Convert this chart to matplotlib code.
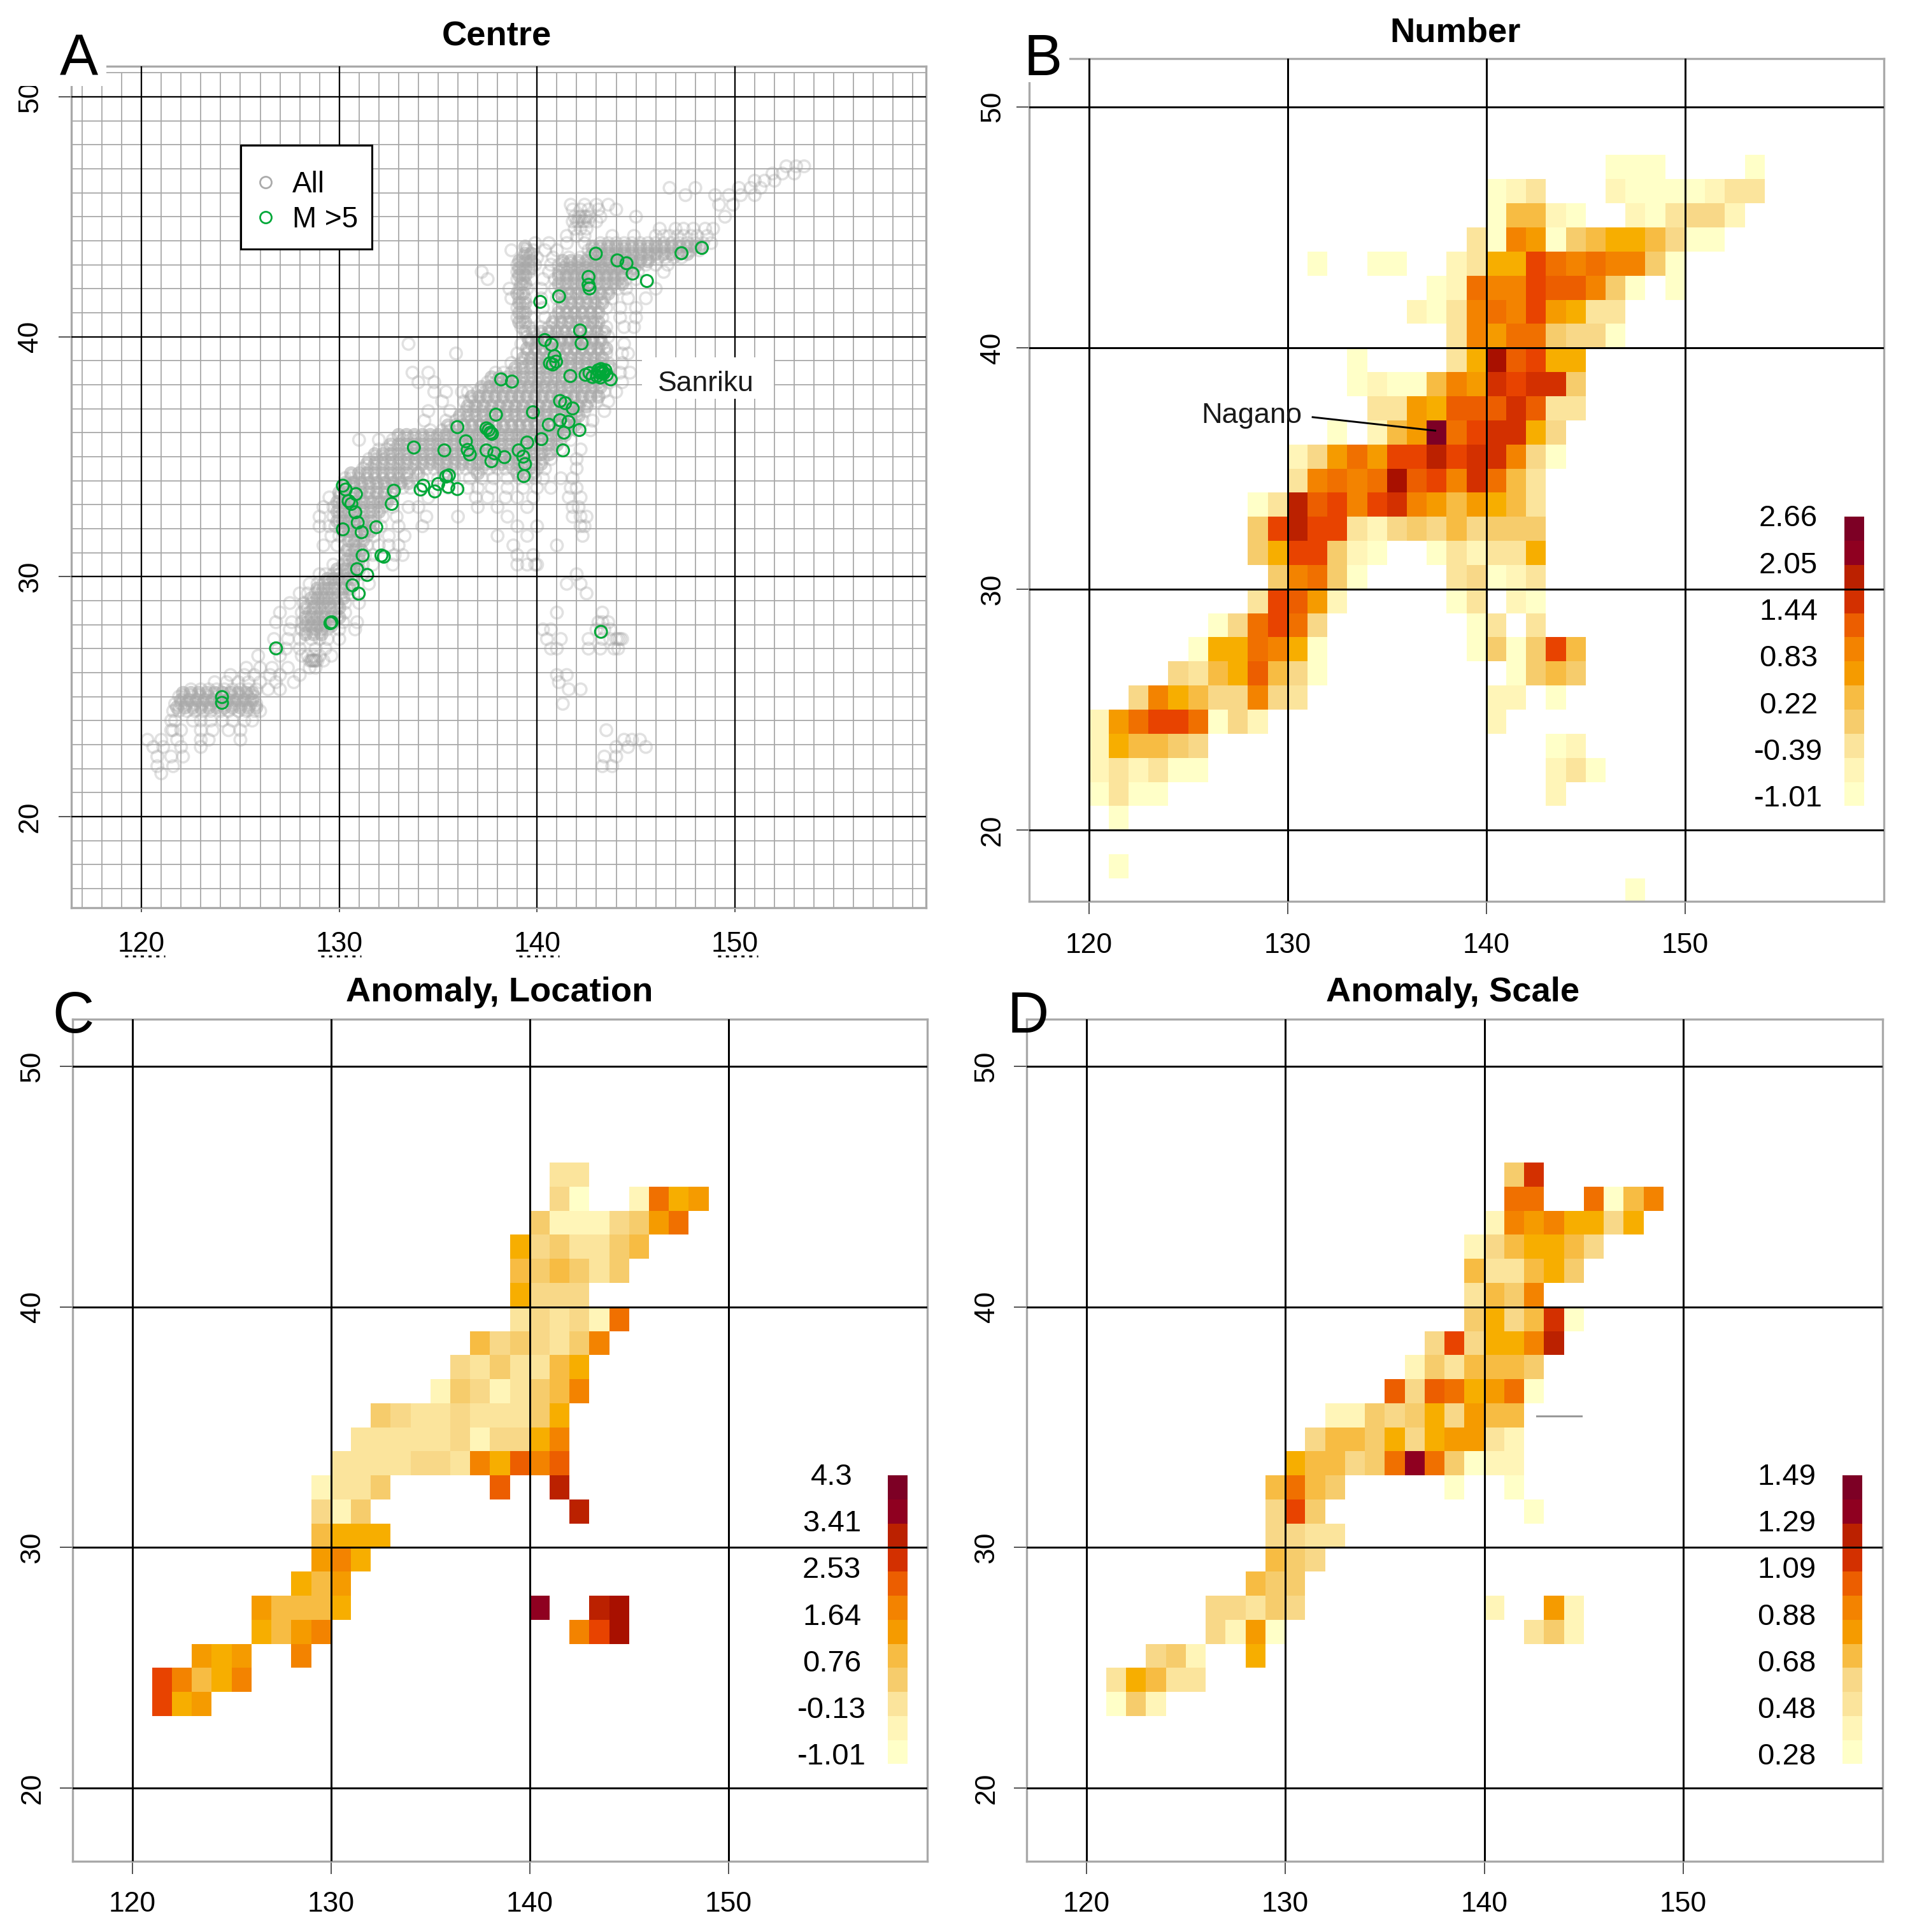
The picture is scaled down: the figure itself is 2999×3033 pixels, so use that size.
import matplotlib
matplotlib.use("Agg")
import numpy as np
import matplotlib.pyplot as plt
from matplotlib.colors import ListedColormap
from matplotlib.lines import Line2D
from matplotlib.patches import Rectangle

plt.rcParams['font.family'] = ['Liberation Sans', 'DejaVu Sans']

W, H = 2999, 3033

LEVEL_CODES = "abcdefghijklmnopq"
LEVEL_COLOURS = ["#FFFFC8", "#FFF5B8", "#FBE49C", "#F8D888", "#F6CC6C", "#F7BC43",
                 "#F7AE00", "#F59B00", "#F38300", "#F07000", "#EC5E00", "#E84300",
                 "#D33000", "#BB2100", "#A81000", "#8F0020", "#7D0025"]

X_TICKS = [120, 130, 140, 150]
Y_TICKS = [20, 30, 40, 50]

# (bottom latitude of the cell row, first longitude, level code per 1-degree cell)
NUMBER_ROWS = [
    (47, 146, "aaa....a"),
    (46, 140, "abc...baaaabcc"),
    (45, 140, "affba..bacddb"),
    (44, 139, "caihaefggfdaa"),
    (43, 131, "a..aa..bcggljijiiea"),
    (42, 137, "abjiilkkiea.a"),
    (41, 136, "bacijilhgcc"),
    (40, 138, "cihjjedda"),
    (39, 133, "a....cgoklgg"),
    (38, 133, "abaafihmlmme"),
    (37, 134, "cchgkkkmkcc"),
    (36, 132, "a.bfhqjlmmgd"),
    (35, 130, "bdhjhllnlmmida"),
    (34, 130, "cijijoklimjfc"),
    (33, 128, "acnklilmihfhgfc"),
    (32, 128, "elnllcbdedfdeee"),
    (31, 128, "eglleba..acbccg"),
    (30, 129, "eijea....cdabc"),
    (29, 128, "clkhb.....ac.ba"),
    (28, 126, "adjljd.......ac.c"),
    (27, 125, "aggjiga.......aeaelf"),
    (26, 124, "dcfgkfda.........aefe"),
    (25, 122, "digfddidc.........bb.a"),
    (24, 120, "bhjlljadb...........b"),
    (23, 120, "bgffed.................ab"),
    (22, 120, "bcbcaa.................bca"),
    (21, 120, "acaa...................b"),
    (20, 121, "a"),
    (18, 121, "a"),
    (17, 147, "a"),
]

LOCATION_ROWS = [
    (45, 141, "cc"),
    (44, 141, "da..bjgh"),
    (43, 140, "ebbbdehj"),
    (42, 139, "gdeccef"),
    (41, 139, "fefece"),
    (40, 139, "gddd"),
    (39, 139, "cdcdbj"),
    (38, 137, "fdedcei"),
    (37, 136, "dceccfg"),
    (36, 135, "bedbcefi"),
    (35, 132, "edccdccceg"),
    (34, 131, "cccccdbddgi"),
    (33, 130, "ccccddcigkik"),
    (32, 129, "bcce.....k..n"),
    (31, 129, "dbe..........n"),
    (30, 129, "fggg"),
    (29, 129, "hig"),
    (28, 128, "gfh"),
    (27, 126, "hfffg.........p..no"),
    (26, 126, "gfhi............ilo"),
    (25, 123, "hgh..i"),
    (24, 121, "lifgi"),
    (23, 121, "lgh"),
]

SCALE_ROWS = [
    (45, 141, "em"),
    (44, 141, "jj..jafi"),
    (43, 140, "bihiggdg"),
    (42, 139, "bdfggfd"),
    (41, 139, "fccfge"),
    (40, 139, "cfei"),
    (39, 139, "egdfma"),
    (38, 137, "dldggin"),
    (37, 136, "becfffe"),
    (36, 135, "kdkjghja"),
    (35, 132, "bbedegdhff"),
    (34, 131, "dffegdghhcb"),
    (33, 130, "gffdejpjeabb"),
    (32, 129, "fjfe.....a..a"),
    (31, 129, "dle..........a"),
    (30, 129, "ddcc"),
    (29, 129, "fed"),
    (28, 128, "fee"),
    (27, 126, "ddced.........b..hb"),
    (26, 126, "dbha............ceb"),
    (25, 123, "deb..g"),
    (24, 121, "cgfcc"),
    (23, 121, "aeb"),
]

# colour key, bottom cell first
NUMBER_KEY = "abcefhikmnpq"
LOCATION_KEY = "abcefhikmnpq"
SCALE_KEY = "abcdfhikmnpq"
NUMBER_KEY_LABELS = ["2.66", "2.05", "1.44", "0.83", "0.22", "-0.39", "-1.01"]
LOCATION_KEY_LABELS = ["4.3", "3.41", "2.53", "1.64", "0.76", "-0.13", "-1.01"]
SCALE_KEY_LABELS = ["1.49", "1.29", "1.09", "0.88", "0.68", "0.48", "0.28"]
KEY_LABEL_LATS = [32.92, 30.98, 29.05, 27.11, 25.17, 23.24, 21.30]

# earthquakes with M > 5 (lon, lat)
STRONG_LON = [142.97, 144.06, 144.52, 144.83, 145.55, 147.30, 148.33, 142.60, 142.60, 142.65,
              141.11, 140.16, 142.17, 142.25, 140.39, 140.73, 140.88, 140.65, 140.96, 140.79,
              141.68, 142.45, 142.65, 142.80, 143.09, 143.23, 143.37, 143.52, 143.72, 143.03,
              138.18, 138.73, 137.92, 139.79, 141.16, 141.42, 141.80, 135.97, 137.44, 137.64,
              137.72, 137.55, 140.59, 141.16, 141.59, 142.14, 141.36, 140.22, 139.50, 136.40,
              136.49, 136.60, 135.31, 133.77, 137.44, 137.84, 138.35, 137.69, 139.07, 139.30,
              139.39, 139.33, 141.31, 132.76, 132.65, 134.11, 134.25, 134.83, 135.00, 135.40,
              135.54, 135.51, 135.97, 130.18, 130.32, 130.84, 130.47, 130.61, 130.81, 130.93,
              131.13, 130.18, 131.87, 131.18, 132.13, 132.25, 130.90, 131.41, 130.67, 130.98,
              129.61, 129.55, 126.80, 143.23, 124.07, 124.07, 143.15, 143.30, 143.45, 143.20]
STRONG_LAT = [43.46, 43.18, 43.06, 42.63, 42.32, 43.48, 43.70, 42.49, 42.16, 42.01,
              41.68, 41.45, 40.26, 39.72, 39.86, 39.67, 39.19, 38.89, 38.96, 38.84,
              38.36, 38.41, 38.48, 38.32, 38.60, 38.65, 38.48, 38.41, 38.22, 38.36,
              38.22, 38.13, 36.75, 36.85, 37.32, 37.23, 37.01, 36.23, 36.18, 36.00,
              35.95, 36.11, 36.33, 36.52, 36.45, 36.11, 36.00, 35.73, 35.59, 35.64,
              35.28, 35.09, 35.26, 35.38, 35.26, 35.14, 34.98, 34.81, 35.26, 35.00,
              34.69, 34.19, 35.26, 33.58, 33.03, 33.63, 33.79, 33.55, 33.86, 34.17,
              34.22, 33.74, 33.65, 33.79, 33.63, 33.44, 33.15, 33.03, 32.68, 32.25,
              31.85, 31.97, 32.06, 30.88, 30.88, 30.83, 30.31, 30.07, 29.64, 29.29,
              28.10, 28.06, 27.01, 27.70, 24.98, 24.74, 38.50, 38.55, 38.60, 38.30]

# all earthquakes, estimated by latitude band: (lat, lons)
ALL_ROWS = [
    (47.1, [152.6, 153.1, 153.5]), (46.8, [151.9, 152.4, 153.0]), (46.5, [151.0, 151.5, 152.0]),
    (46.2, [150.2, 150.8, 151.3, 146.7, 148.0]), (45.9, [149.7, 150.3, 151.0, 147.5, 149.0]),
    (45.5, [149.2, 149.9, 142.4, 141.7, 143.0, 143.6]),
    (45.3, [141.8, 142.2, 142.6, 143.1, 144.0]),
    (45.0, [141.9, 142.1, 142.4, 142.7, 143.2, 149.5, 145.0, 142.2, 142.5]),
    (44.8, [141.8, 142.0, 142.3, 142.6, 143.0, 142.1, 142.4]),
    (44.5, [141.9, 142.2, 142.5, 146.2, 147.0, 147.4, 147.9, 148.5, 148.9]),
    (44.2, [142.0, 142.4, 141.5, 143.8, 144.9, 146.0, 146.4, 146.7, 147.1, 147.4, 147.8, 148.1, 148.6]),
    (43.9, [139.9, 140.6, 141.5, 142.4, 143.2, 143.6, 144.0, 144.4, 144.8, 145.2, 145.6, 146.0, 146.4,
            146.8, 147.2, 147.6, 148.0, 148.4, 148.8]),
    (43.6, [138.7, 139.5, 139.8, 140.4, 141.0, 142.6, 143.0, 143.4, 143.8, 144.2, 144.6, 145.0, 145.4,
            145.8, 146.2, 146.6, 147.0, 147.4, 147.8, 148.2]),
    (43.3, [139.3, 139.6, 140.0, 140.8, 141.6, 142.2, 142.6, 143.0, 143.3, 143.7, 144.1, 144.5, 144.9,
            145.3, 145.7, 146.1, 146.5, 146.9, 147.3]),
    (43.0, [139.0, 139.3, 139.6, 139.9, 140.7, 141.1, 141.5, 141.9, 142.3, 142.7, 143.1, 143.5, 143.9,
            144.3, 144.7, 145.1, 145.5, 146.0, 146.6]),
    (42.7, [137.2, 139.0, 139.3, 139.6, 140.6, 141.1, 141.5, 141.9, 142.3, 142.7, 143.1, 143.5, 143.9,
            144.3, 144.7, 145.1, 146.4]),
    (42.4, [137.5, 139.0, 139.3, 139.7, 140.3, 140.9, 141.3, 141.7, 142.1, 142.5, 142.9, 143.3, 143.7,
            144.1, 144.5, 145.0]),
    (42.0, [138.6, 139.1, 139.5, 140.2, 140.9, 141.3, 141.7, 142.1, 142.5, 142.9, 143.3, 143.7, 144.1,
            144.5, 146.0]),
    (41.6, [138.7, 139.1, 139.4, 140.2, 141.0, 141.4, 141.8, 142.2, 142.6, 143.0, 143.4, 143.8, 144.6, 145.5]),
    (41.2, [139.0, 139.3, 139.7, 140.3, 141.1, 141.5, 141.9, 142.3, 142.7, 143.1, 143.5, 144.2, 145.0]),
    (40.8, [139.0, 139.3, 139.7, 140.4, 140.9, 141.3, 141.7, 142.1, 142.5, 142.9, 143.3, 144.2, 145.0]),
    (40.4, [139.2, 139.6, 140.2, 140.6, 141.0, 141.4, 141.8, 142.2, 142.6, 143.0, 143.5, 144.4, 144.9]),
    (40.0, [139.5, 140.0, 140.4, 140.8, 141.2, 141.6, 142.0, 142.4, 142.8, 143.2, 143.6]),
    (39.7, [133.5, 139.2, 139.7, 140.1, 140.5, 140.9, 141.3, 141.7, 142.1, 142.5, 142.9, 143.3, 144.4]),
    (39.3, [135.9, 139.0, 139.5, 139.9, 140.3, 140.7, 141.1, 141.5, 141.9, 142.3, 142.7, 143.1, 143.5, 144.3, 144.6]),
    (38.9, [138.7, 139.2, 139.6, 140.0, 140.4, 140.8, 141.2, 141.6, 142.0, 142.4, 142.8, 143.2, 143.6, 144.3]),
    (38.5, [133.7, 134.5, 137.9, 138.3, 138.7, 139.1, 139.5, 139.9, 140.3, 140.7, 141.1, 141.5, 141.9,
            142.3, 142.7, 143.1, 143.5, 144.2, 144.7]),
    (38.1, [134.0, 134.8, 137.5, 137.9, 138.3, 138.7, 139.1, 139.5, 139.9, 140.3, 140.7, 141.1, 141.5,
            141.9, 142.3, 142.7, 143.1, 143.6, 144.3]),
    (37.7, [134.8, 135.4, 136.2, 136.5, 137.0, 137.4, 137.8, 138.2, 138.6, 139.0, 139.4, 139.8, 140.2,
            140.6, 141.0, 141.4, 141.8, 142.2, 142.6, 143.0, 143.4, 144.0]),
    (37.3, [135.2, 136.3, 136.6, 137.0, 137.4, 137.8, 138.2, 138.6, 139.0, 139.4, 139.8, 140.2, 140.6,
            141.0, 141.4, 141.8, 142.2, 142.6, 143.0, 143.6]),
    (36.9, [134.5, 135.6, 136.4, 136.8, 137.2, 137.6, 138.0, 138.4, 138.8, 139.2, 139.6, 140.0, 140.4,
            140.8, 141.2, 141.6, 142.0, 142.4, 143.4]),
    (36.5, [134.3, 135.4, 135.9, 136.3, 136.7, 137.1, 137.5, 137.9, 138.3, 138.7, 139.1, 139.5, 139.9,
            140.3, 140.7, 141.1, 141.5, 141.9, 142.3, 142.8]),
    (36.1, [134.6, 135.2, 135.6, 136.0, 136.4, 136.8, 137.2, 137.6, 138.0, 138.4, 138.8, 139.2, 139.6,
            140.0, 140.4, 140.8, 141.2, 141.6, 142.0, 142.7]),
    (35.7, [131.0, 132.0, 132.7, 133.2, 133.6, 134.0, 134.4, 134.8, 135.2, 135.6, 136.0, 136.4, 136.8,
            137.2, 137.6, 138.0, 138.4, 138.8, 139.2, 139.6, 140.0, 140.4, 140.8, 141.2, 141.7]),
    (35.3, [132.0, 132.4, 132.8, 133.2, 133.6, 134.0, 134.4, 134.8, 135.2, 135.6, 136.0, 136.4, 136.8,
            137.2, 137.6, 138.0, 138.4, 138.8, 139.2, 139.6, 140.0, 140.4, 140.8, 141.2, 142.2]),
    (34.9, [131.5, 131.9, 132.3, 132.7, 133.1, 133.5, 133.9, 134.3, 134.7, 135.1, 135.5, 135.9, 136.3,
            136.7, 137.1, 137.5, 137.9, 138.3, 138.7, 139.1, 139.5, 139.9, 140.3, 140.7, 142.0]),
    (34.5, [131.2, 131.6, 132.0, 132.4, 132.8, 133.2, 133.6, 134.0, 134.4, 134.8, 135.2, 135.6, 136.0,
            136.4, 136.8, 137.2, 137.6, 138.0, 138.4, 138.8, 139.2, 139.6, 140.0, 140.4, 142.0]),
    (34.1, [130.3, 130.6, 131.0, 131.4, 131.8, 132.2, 132.6, 133.0, 133.4, 134.2, 135.0, 135.8, 136.6,
            137.2, 137.8, 138.5, 139.1, 139.5, 139.9, 140.3, 141.2, 141.8]),
    (33.7, [130.2, 130.5, 130.8, 131.2, 131.6, 132.0, 132.4, 132.8, 133.2, 133.6, 135.5, 136.5, 137.0,
            137.7, 138.5, 139.3, 140.0, 140.7, 141.7, 142.0]),
    (33.3, [129.5, 130.0, 130.3, 130.6, 131.0, 131.4, 131.8, 132.2, 132.6, 134.5, 136.9, 137.5, 138.4,
            139.0, 139.8, 141.6, 142.2]),
    (32.9, [129.2, 129.7, 130.0, 130.3, 130.6, 131.0, 131.4, 131.8, 132.2, 132.7, 133.5, 134.0, 137.0,
            138.0, 139.5, 141.8, 142.1]),
    (32.5, [129.0, 129.7, 130.0, 130.3, 130.6, 131.0, 131.4, 131.8, 132.2, 132.9, 134.4, 136.0, 138.5,
            141.8, 142.2, 142.5]),
    (32.1, [129.0, 129.5, 129.8, 130.2, 130.5, 130.9, 131.3, 131.7, 132.1, 133.0, 134.2, 139.0, 140.0, 142.2, 142.4]),
    (31.7, [129.6, 130.0, 130.4, 130.8, 131.1, 131.4, 131.8, 132.5, 133.3, 138.0, 139.5, 142.3]),
    (31.3, [129.2, 129.9, 130.3, 130.7, 131.0, 131.4, 132.0, 132.5, 133.0, 138.8, 141.0]),
    (30.9, [130.3, 130.6, 131.0, 131.3, 131.7, 132.8, 133.2, 139.0, 139.8]),
    (30.5, [129.7, 130.2, 130.5, 130.8, 131.2, 131.7, 132.7, 139.0, 139.5, 139.9, 140.0]),
    (30.1, [129.0, 129.3, 129.7, 130.0, 130.4, 130.8, 131.2, 142.0]),
    (29.7, [128.5, 128.9, 129.2, 129.5, 129.8, 130.2, 130.6, 131.5, 141.5, 142.2]),
    (29.3, [128.0, 128.4, 128.8, 129.1, 129.4, 129.7, 130.1, 130.5, 131.0, 142.5]),
    (28.9, [127.5, 128.2, 128.6, 128.9, 129.2, 129.5, 129.9, 130.3, 131.0]),
    (28.5, [127.0, 128.1, 128.5, 128.8, 129.1, 129.4, 129.8, 130.3, 141.0, 143.3]),
    (28.1, [126.8, 127.6, 128.1, 128.4, 128.7, 129.0, 129.3, 129.7, 130.2, 130.9, 143.1, 143.3, 143.6]),
    (27.8, [127.5, 128.1, 128.5, 128.8, 129.1, 129.4, 130.0, 130.8, 140.3, 140.7, 143.0, 143.4, 143.7]),
    (27.4, [126.7, 127.4, 128.0, 128.6, 129.0, 129.4, 130.0, 140.5, 141.2, 142.6, 143.3, 143.7, 144.0, 144.3, 144.1, 144.2]),
    (27.0, [126.9, 127.3, 128.0, 128.8, 129.3, 140.7, 141.0, 142.6, 143.2, 143.9, 144.1]),
    (26.7, [125.9, 127.0, 128.1, 128.4, 128.7, 129.0, 129.6]),
    (26.5, [128.6, 128.9, 128.7, 128.8, 128.5, 129.2, 128.6, 128.7, 128.8]),
    (26.2, [125.3, 126.0, 126.6, 127.4, 128.5, 128.8]),
    (25.9, [124.5, 125.2, 125.7, 126.5, 127.0, 128.0, 141.0, 141.5]),
    (25.6, [123.7, 124.3, 124.9, 125.4, 126.0, 126.8, 127.7, 141.1]),
    (25.3, [122.5, 123.0, 123.4, 123.8, 124.2, 124.6, 125.0, 125.4, 125.8, 126.4, 127.0, 141.6, 142.2]),
    (25.0, [121.9, 122.2, 122.6, 123.0, 123.4, 123.8, 124.2, 124.6, 125.0, 125.4, 125.7]),
    (24.7, [121.7, 122.0, 122.3, 122.7, 123.1, 123.5, 123.9, 124.3, 124.7, 125.1, 125.5, 125.8, 141.3]),
    (24.4, [121.6, 121.9, 122.3, 122.7, 123.1, 123.5, 124.0, 124.4, 124.9, 125.3, 125.7, 126.0]),
    (24.0, [121.5, 121.7, 122.6, 123.0, 123.5, 124.1, 124.6, 125.2, 125.6]),
    (23.6, [121.5, 121.6, 122.0, 123.0, 123.6, 124.4, 125.0, 143.5]),
    (23.2, [120.3, 121.0, 121.8, 123.0, 123.4, 125.0, 144.8, 145.2, 144.4]),
    (22.9, [120.6, 121.1, 122.0, 123.0, 144.0, 144.6, 145.5]),
    (22.5, [120.8, 121.5, 122.1, 143.4, 144.0]),
    (22.1, [120.8, 121.6, 143.3, 143.8]),
    (21.8, [121.0]),
]

# further events in the densest part of the cloud
DENSE_ROWS = [
    (43.75, [139.4, 142.8, 143.2, 143.6, 144.0, 144.4, 144.8, 145.2, 145.6, 146.0, 146.4, 146.8, 147.2, 147.6, 148.0, 148.3]),
    (43.45, [139.4, 139.7, 142.8, 143.2, 143.6, 144.0, 144.4, 144.8, 145.2, 145.6, 146.0, 146.4, 146.8, 147.2, 147.6]),
    (43.15, [139.1, 139.4, 139.7, 141.3, 141.7, 142.1, 142.5, 142.9, 143.2, 143.6, 144.0, 144.4, 144.8, 145.2, 145.6]),
    (42.85, [139.1, 139.4, 139.7, 141.3, 141.7, 142.1, 142.5, 142.9, 143.3, 143.7, 144.1, 144.5, 144.9]),
    (42.55, [139.1, 139.4, 141.1, 141.5, 141.9, 142.3, 142.7, 143.1, 143.5, 143.9, 144.3]),
    (42.2, [139.2, 139.4, 141.1, 141.5, 141.9, 142.3, 142.7, 143.1, 143.5, 143.9, 144.3]),
    (41.8, [139.0, 139.3, 141.2, 141.6, 142.0, 142.4, 142.8, 143.2, 143.6]),
    (41.4, [139.1, 139.4, 141.3, 141.7, 142.1, 142.5, 142.9, 143.3]),
    (41.0, [139.1, 139.4, 141.1, 141.5, 141.9, 142.3, 142.7, 143.1]),
    (40.6, [139.1, 139.4, 140.8, 141.2, 141.6, 142.0, 142.4, 142.8, 143.1]),
    (40.2, [139.4, 139.8, 140.2, 140.6, 141.0, 141.4, 141.8, 142.2, 142.6, 143.0, 143.4]),
    (39.85, [139.6, 140.0, 140.4, 140.8, 141.2, 141.6, 142.0, 142.4, 142.8, 143.2]),
    (39.5, [139.5, 139.9, 140.3, 140.7, 141.1, 141.5, 141.9, 142.3, 142.7, 143.1, 143.5]),
    (39.1, [139.3, 139.7, 140.1, 140.5, 140.9, 141.3, 141.7, 142.1, 142.5, 142.9, 143.3]),
    (38.7, [138.9, 139.3, 139.7, 140.1, 140.5, 140.9, 141.3, 141.7, 142.1, 142.5, 142.9, 143.3, 143.7]),
    (38.3, [137.7, 138.1, 138.5, 138.9, 139.3, 139.7, 140.1, 140.5, 140.9, 141.3, 141.7, 142.1, 142.5, 142.9, 143.3, 143.7]),
    (37.9, [137.2, 137.6, 138.0, 138.4, 138.8, 139.2, 139.6, 140.0, 140.4, 140.8, 141.2, 141.6, 142.0, 142.4, 142.8, 143.2]),
    (37.5, [136.7, 137.1, 137.5, 137.9, 138.3, 138.7, 139.1, 139.5, 139.9, 140.3, 140.7, 141.1, 141.5, 141.9, 142.3, 142.7, 143.1]),
    (37.1, [136.5, 136.9, 137.3, 137.7, 138.1, 138.5, 138.9, 139.3, 139.7, 140.1, 140.5, 140.9, 141.3, 141.7, 142.1, 142.5]),
    (36.7, [136.1, 136.5, 136.9, 137.3, 137.7, 138.1, 138.5, 138.9, 139.3, 139.7, 140.1, 140.5, 140.9, 141.3, 141.7, 142.1]),
    (36.3, [135.5, 135.9, 136.3, 136.7, 137.1, 137.5, 137.9, 138.3, 138.7, 139.1, 139.5, 139.9, 140.3, 140.7, 141.1, 141.5, 141.9]),
    (35.9, [133.0, 133.4, 133.8, 134.2, 134.6, 135.0, 135.4, 135.8, 136.2, 136.6, 137.0, 137.4, 137.8, 138.2, 138.6, 139.0, 139.4, 139.8, 140.2, 140.6, 141.0, 141.4]),
    (35.5, [132.6, 133.0, 133.4, 133.8, 134.2, 134.6, 135.0, 135.4, 135.8, 136.2, 136.6, 137.0, 137.4, 137.8, 138.2, 138.6, 139.0, 139.4, 139.8, 140.2, 140.6, 141.0]),
    (35.1, [131.8, 132.2, 132.6, 133.0, 133.4, 133.8, 134.2, 134.6, 135.0, 135.4, 135.8, 136.2, 136.6, 137.0, 137.4, 137.8, 138.2, 138.6, 139.0, 139.4, 139.8, 140.2, 140.6]),
    (34.7, [131.4, 131.8, 132.2, 132.6, 133.0, 133.4, 133.8, 134.2, 134.6, 135.0, 135.4, 135.8, 136.2, 136.6, 137.0, 137.4, 137.8, 138.2, 138.6, 139.0, 139.4, 139.8, 140.2]),
    (34.3, [130.6, 131.0, 131.4, 131.8, 132.2, 132.6, 133.0, 133.4, 134.0, 135.4, 137.0, 139.0, 139.4, 139.8]),
    (33.9, [130.3, 130.7, 131.1, 131.5, 131.9, 132.3, 132.7, 133.1, 133.5]),
    (33.5, [130.0, 130.3, 130.7, 131.1, 131.5, 131.9, 132.3, 132.7]),
    (33.1, [129.9, 130.2, 130.5, 130.8, 131.2, 131.6, 132.0, 132.4]),
    (32.7, [129.9, 130.2, 130.5, 130.8, 131.2, 131.6, 132.0]),
    (32.3, [129.9, 130.2, 130.5, 130.8, 131.2, 131.6]),
    (31.9, [130.2, 130.5, 130.9, 131.3, 131.6]),
    (31.5, [130.5, 130.8, 131.2]),
    (31.1, [130.4, 130.8, 131.1]),
    (30.7, [130.4, 130.7, 131.0]),
    (30.3, [129.9, 130.3, 130.6, 131.0]),
    (29.9, [129.4, 129.7, 130.0, 130.4, 130.7]),
    (29.5, [128.9, 129.2, 129.5, 129.8, 130.2, 130.5]),
    (29.1, [128.6, 128.9, 129.2, 129.5, 129.8, 130.2]),
    (28.7, [128.3, 128.7, 129.0, 129.3, 129.6, 130.0]),
    (28.3, [128.3, 128.6, 128.9, 129.2, 129.6, 130.0]),
    (27.95, [128.3, 128.6, 128.9, 129.2, 129.6]),
    (27.6, [128.3, 128.7, 129.1]),
    (25.15, [122.1, 122.5, 122.9, 123.3, 123.7, 124.1, 124.5, 124.9, 125.3, 125.6]),
    (24.85, [122.0, 122.4, 122.8, 123.2, 123.6, 124.0, 124.4, 124.8, 125.2, 125.6]),
    (24.55, [121.8, 122.2, 122.6, 123.0, 123.4, 123.8, 124.2, 124.6, 125.0, 125.4, 125.8]),
]


def px_axes(left, right, top, bottom):
    return fig.add_axes([left / W, 1 - bottom / H, (right - left) / W, (bottom - top) / H])


def fig_x(x):
    return x / W


def fig_y(y):
    return 1 - y / H


fig = plt.figure(figsize=(W / 100, H / 100), dpi=100, facecolor="white")


def style_axes(ax, xlim, ylim, xtick_len, xpad, ypad, line_px):
    ax.set_xlim(*xlim)
    ax.set_ylim(*ylim)
    for s in ax.spines.values():
        s.set_color("#A9A9A9")
        s.set_linewidth(2.4)
    ax.set_xticks(X_TICKS)
    ax.set_yticks(Y_TICKS)
    ax.tick_params(axis="x", length=xtick_len, width=1.1, color="#222222", labelsize=32, pad=xpad)
    ax.tick_params(axis="y", length=14.5, width=1.1, color="#222222", labelsize=32, pad=ypad)
    for t in ax.get_yticklabels():
        t.set_rotation(90)
        t.set_va("center")
    for v in X_TICKS:
        ax.axvline(v, color="black", lw=line_px * 0.72, zorder=4)
    for v in Y_TICKS:
        ax.axhline(v, color="black", lw=line_px * 0.72, zorder=4)


def draw_cells(ax, rows):
    lons = np.arange(117, 161)
    lats = np.arange(17, 53)
    grid = np.full((lats.size - 1, lons.size - 1), np.nan)
    for lat, first, codes in rows:
        for i, c in enumerate(codes):
            if c != ".":
                grid[lat - 17, first - 117 + i] = LEVEL_CODES.index(c)
    cmap = ListedColormap(LEVEL_COLOURS)
    ax.pcolormesh(lons, lats, np.ma.masked_invalid(grid), cmap=cmap, vmin=-0.5,
                  vmax=len(LEVEL_COLOURS) - 0.5, zorder=1, linewidth=0, rasterized=True)


def draw_key(ax, key, labels):
    vals = np.array([[LEVEL_CODES.index(c)] for c in key], dtype=float)
    ax.pcolormesh([158, 159], np.arange(21, 34), vals, cmap=ListedColormap(LEVEL_COLOURS),
                  vmin=-0.5, vmax=len(LEVEL_COLOURS) - 0.5, zorder=1)
    for lab, lat in zip(labels, KEY_LABEL_LATS):
        ax.text(155.2, lat, lab, ha="center", va="center", fontsize=34, color="black", zorder=5)


# ---- Panel A
axA = px_axes(111.6, 1453.6, 104, 1425)
style_axes(axA, (116.44, 159.65), (16.2, 51.27), 5, 22, 17, 2.3)
axA.vlines(np.arange(117, 160), 16.2, 51.0, color="#A8A8A8", lw=1.3, zorder=1)
axA.hlines(np.arange(17, 52), 116.44, 159.65, color="#A8A8A8", lw=1.3, zorder=1)
base_lon = [x for lat, lons in ALL_ROWS for x in lons]
base_lat = [lat for lat, lons in ALL_ROWS for x in lons]
dense_lon = [x for lat, lons in DENSE_ROWS for x in lons]
dense_lat = [lat for lat, lons in DENSE_ROWS for x in lons]
axA.scatter(base_lon, base_lat, s=175, facecolors="none", edgecolors=(0.62, 0.62, 0.62, 0.30),
            linewidths=2.6, zorder=2)
axA.scatter(dense_lon, dense_lat, s=130, facecolors="none", edgecolors=(0.66, 0.66, 0.66, 0.55),
            linewidths=4.6, zorder=2)
axA.scatter(STRONG_LON, STRONG_LAT, s=185, facecolors="none", edgecolors="#00A838",
            linewidths=2.2, zorder=3)
axA.add_patch(Rectangle((145.3, 37.4), 6.66, 1.75, facecolor="white", edgecolor="none", zorder=4.5))
axA.text(148.55, 38.03, "Sanriku", ha="center", va="center", fontsize=32, color="#1A1A1A", zorder=6)
axA.add_patch(Rectangle((fig_x(378), fig_y(390.5)), 205.5 / W, 162.5 / H, transform=fig.transFigure,
                        facecolor="white", edgecolor="black", lw=2.2, zorder=6.5))
handles = [Line2D([], [], marker="o", ls="none", mfc="none", mec="#ABABAB", ms=13, mew=2.0),
           Line2D([], [], marker="o", ls="none", mfc="none", mec="#00A838", ms=13, mew=2.0)]
leg = axA.legend(handles, ["All", "M >5"], fontsize=33, loc="upper left",
                 bbox_to_anchor=(fig_x(378), fig_y(240)), bbox_transform=fig.transFigure,
                 borderaxespad=0, borderpad=0.62, handlelength=0.45, handletextpad=0.70,
                 labelspacing=0.24, frameon=False)
leg.set_zorder(7)

# ---- Panel B
axB = px_axes(1616, 2958, 92, 1415)
style_axes(axB, (117, 160), (17.05, 52), 14.5, 20.5, 12, 3)
draw_cells(axB, NUMBER_ROWS)
draw_key(axB, NUMBER_KEY, NUMBER_KEY_LABELS)
axB.plot([131.26, 137.43], [37.13, 36.57], color="black", lw=2.1, zorder=5)
axB.text(128.2, 37.2, "Nagano", ha="center", va="center", fontsize=32.5, color="#1A1A1A", zorder=6)

# ---- Panel C
axC = px_axes(114, 1456, 1600, 2922)
style_axes(axC, (117, 160), (16.96, 51.96), 14.5, 19, 16, 3)
draw_cells(axC, LOCATION_ROWS)
draw_key(axC, LOCATION_KEY, LOCATION_KEY_LABELS)

# ---- Panel D
axD = px_axes(1612, 2955.5, 1600, 2922)
style_axes(axD, (117, 160), (16.96, 51.96), 14.5, 19, 16, 3)
draw_cells(axD, SCALE_ROWS)
draw_key(axD, SCALE_KEY, SCALE_KEY_LABELS)
axD.plot([142.64, 144.88], [35.46, 35.46], color="#999999", lw=2.2, zorder=5)

# white patches behind the panel letters
fig.add_artist(Rectangle((0, fig_y(135)), fig_x(167), 135 / H, transform=fig.transFigure,
                         facecolor="white", edgecolor="none", zorder=5))
fig.add_artist(Rectangle((fig_x(1500), fig_y(129)), 179 / W, 129 / H, transform=fig.transFigure,
                         facecolor="white", edgecolor="none", zorder=5))

# clipped remains of a label strip under panel A's axis
for x0 in (196, 504, 815, 1127):
    fig.add_artist(Line2D([fig_x(x0), fig_x(x0 + 63)], [fig_y(1501), fig_y(1501)],
                          transform=fig.transFigure, color="black", lw=2.2,
                          dashes=(1.6, 2.4), zorder=6))

for txt, cx, cy in [("Centre", 780, 58), ("Number", 2285, 52),
                    ("Anomaly, Location", 784, 1558), ("Anomaly, Scale", 2281, 1558)]:
    fig.text(fig_x(cx), fig_y(cy), txt, ha="center", va="center", fontsize=39.2,
             fontweight="bold", color="black", zorder=6)

for txt, x, y in [("A", 94, 118), ("B", 1608, 118), ("C", 82, 1621), ("D", 1582, 1621)]:
    fig.text(fig_x(x), fig_y(y), txt, ha="left", va="baseline", fontsize=65, color="black", zorder=6)

fig.savefig("out.png", dpi=100, facecolor="white")
